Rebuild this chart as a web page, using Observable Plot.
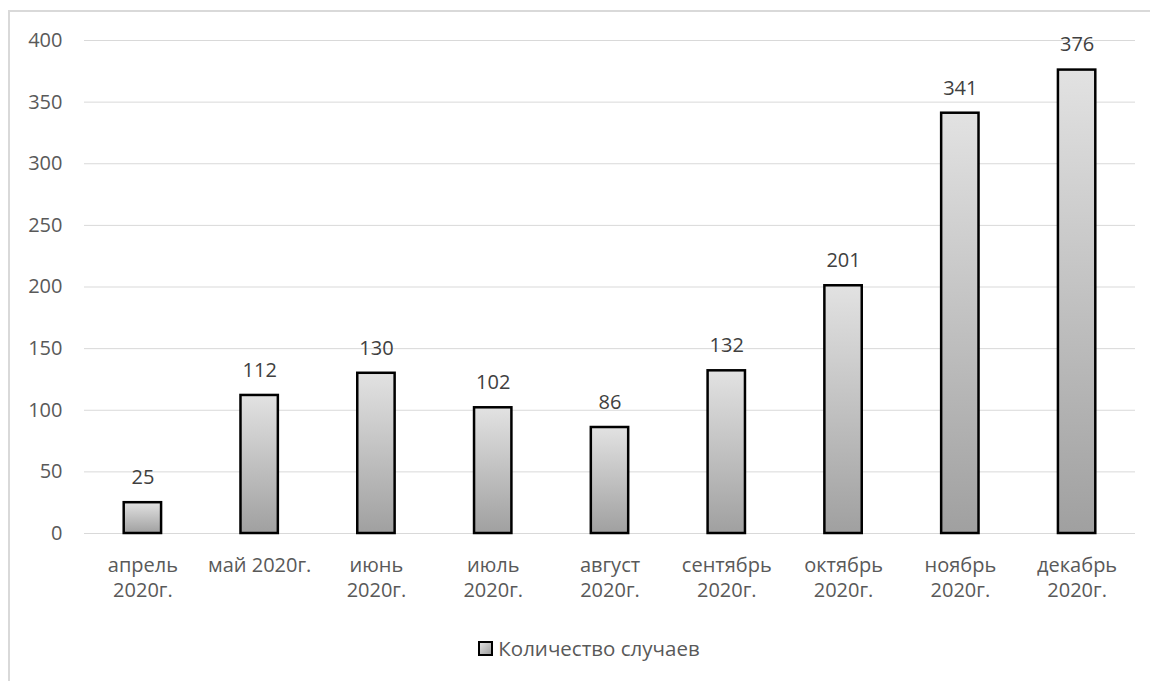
<!DOCTYPE html>
<html>
<head>
<meta charset="utf-8">
<script src="https://cdn.jsdelivr.net/npm/d3@7"></script>
<script src="https://cdn.jsdelivr.net/npm/@observablehq/plot@0.6"></script>
<style>
  html, body { margin: 0; padding: 0; background: #fff; overflow: hidden; }
  body { width: 1150px; height: 681px; position: relative; font-family: "Open Sans", sans-serif; }
  #frame { position: absolute; left: 8px; top: 10px; width: 1200px; height: 700px; border: 2px solid #d9d9d9; box-sizing: border-box; }
  #chart { position: absolute; left: 0; top: 0; }
  #legend { position: absolute; left: 14px; top: 634px; width: 1150px; text-align: center; font-size: 20.5px; line-height: 28px; color: #595959; }
  #legend .sw { display: inline-block; width: 11px; height: 11px; border: 2px solid #000; vertical-align: 0px; margin-right: 5px;
    background: linear-gradient(135deg, #dedede, #a0a0a0); }
</style>
</head>
<body>
<div id="frame"></div>
<div id="chart"></div>
<div id="legend"><span class="sw"></span>Количество случаев</div>
<script>
const months = ["апрель\n2020г.", "май 2020г.", "июнь\n2020г.", "июль\n2020г.", "август\n2020г.", "сентябрь\n2020г.", "октябрь\n2020г.", "ноябрь\n2020г.", "декабрь\n2020г."];
const cases = [25, 112, 130, 102, 86, 132, 201, 341, 376];
const yTicks = [0, 50, 100, 150, 200, 250, 300, 350, 400];
const seriesName = "Количество случаев";

const data = months.map((m, i) => ({month: m, value: cases[i]}));

const chart = Plot.plot({
  width: 1150,
  height: 620,
  marginLeft: 84,
  marginRight: 15,
  marginTop: 40,
  marginBottom: 87,
  style: {fontFamily: '"Open Sans", sans-serif', fontSize: "20px", color: "#595959", background: "transparent"},
  x: {domain: months, paddingInner: 0.68, paddingOuter: 0.34, round: false, label: null},
  y: {domain: [0, 400], ticks: yTicks, label: null},
  marks: [
    Plot.gridY(yTicks, {stroke: "#d9d9d9", strokeOpacity: 1, strokeWidth: 1}),
    Plot.barY(data, {x: "month", y: "value", fill: "url(#barGrad)", stroke: "#000", strokeWidth: 2.5}),
    Plot.text(data, {x: "month", y: "value", text: d => String(d.value), dy: -25, fontSize: 20, fill: "#404040"}),
    Plot.axisY(yTicks, {tickSize: 0, tickPadding: 22, fontSize: 20, fill: "#595959", label: null}),
    Plot.axisX({tickSize: 0, tickPadding: 21, fontSize: 20, fill: "#595959", lineHeight: 1.25, label: null})
  ]
});

const defs = d3.select(chart).insert("defs", ":first-child");
const g = defs.append("linearGradient").attr("id", "barGrad").attr("x1", 0).attr("y1", 0).attr("x2", 0).attr("y2", 1);
g.append("stop").attr("offset", "0%").attr("stop-color", "#e2e2e2");
g.append("stop").attr("offset", "100%").attr("stop-color", "#a0a0a0");

document.getElementById("chart").appendChild(chart);
</script>
</body>
</html>
